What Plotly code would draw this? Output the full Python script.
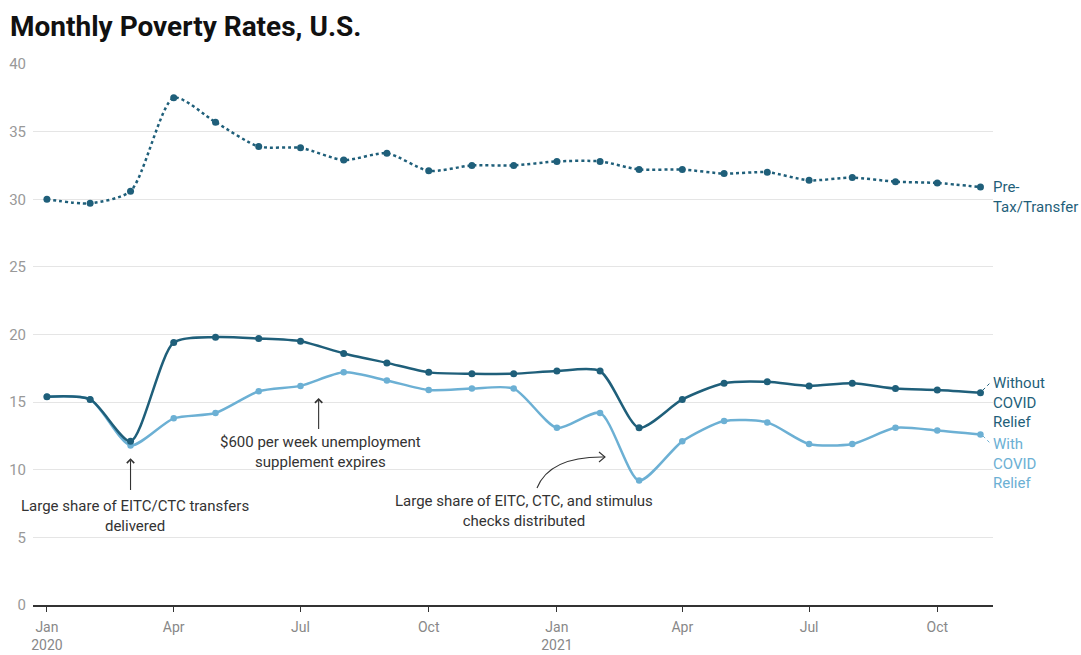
import pandas as pd
import plotly.graph_objects as go

# Monthly series, Jan 2020 - Nov 2021
months = pd.date_range("2020-01-01", "2021-11-01", freq="MS")

pre_tax_transfer = [30.0, 29.7, 30.6, 37.5, 35.7, 33.9, 33.8, 32.9, 33.4, 32.1, 32.5, 32.5,
                    32.8, 32.8, 32.2, 32.2, 31.9, 32.0, 31.4, 31.6, 31.3, 31.2, 30.9]
without_relief = [15.4, 15.2, 12.1, 19.4, 19.8, 19.7, 19.5, 18.6, 17.9, 17.2, 17.1, 17.1,
                  17.3, 17.3, 13.1, 15.2, 16.4, 16.5, 16.2, 16.4, 16.0, 15.9, 15.7]
with_relief = [15.4, 15.2, 11.8, 13.8, 14.2, 15.8, 16.2, 17.2, 16.6, 15.9, 16.0, 16.0,
               13.1, 14.2, 9.2, 12.1, 13.6, 13.5, 11.9, 11.9, 13.1, 12.9, 12.6]

tick_dates = ["2020-01-01", "2020-04-01", "2020-07-01", "2020-10-01",
              "2021-01-01", "2021-04-01", "2021-07-01", "2021-10-01"]
tick_labels = ["Jan<br>2020", "Apr", "Jul", "Oct", "Jan<br>2021", "Apr", "Jul", "Oct"]
y_ticks = [0, 5, 10, 15, 20, 25, 30, 35, 40]

DARK = "#1f5f7a"
LIGHT = "#6cb0d4"
FONT = "Roboto"

W, H = 1081, 655
L, R, T, B = 33, 993, 64, 605


def px(x):
    return (x - L) / (R - L)


def py(y):
    return (B - y) / (B - T)


fig = go.Figure()

fig.add_trace(go.Scatter(
    x=months, y=pre_tax_transfer, mode="lines+markers",
    line=dict(color=DARK, width=2.5, dash="dot", shape="spline", smoothing=0.7),
    marker=dict(color=DARK, size=7), name="Pre-Tax/Transfer", showlegend=False))
fig.add_trace(go.Scatter(
    x=months, y=with_relief, mode="lines+markers",
    line=dict(color=LIGHT, width=2.5, shape="spline", smoothing=0.7),
    marker=dict(color=LIGHT, size=6.5), name="With COVID Relief", showlegend=False))
fig.add_trace(go.Scatter(
    x=months, y=without_relief, mode="lines+markers",
    line=dict(color=DARK, width=2.5, shape="spline", smoothing=0.7),
    marker=dict(color=DARK, size=7), name="Without COVID Relief", showlegend=False))

annots = []
txt = dict(family=FONT, size=15, color="#333333")

# Straight arrows pointing at the dip and the expiry
annots.append(dict(x="2020-03-01", y=10.85, ax="2020-03-01", ay=8.4,
                   xref="x", yref="y", axref="x", ayref="y", text="",
                   showarrow=True, arrowhead=4, arrowsize=1.3, arrowwidth=1.1,
                   arrowcolor="#333333"))
annots.append(dict(x="2020-07-14", y=15.3, ax="2020-07-14", ay=12.9,
                   xref="x", yref="y", axref="x", ayref="y", text="",
                   showarrow=True, arrowhead=4, arrowsize=1.3, arrowwidth=1.1,
                   arrowcolor="#333333"))

annots.append(dict(x=px(135), y=py(516), xref="paper", yref="paper",
                   text="Large share of EITC/CTC transfers<br>delivered",
                   showarrow=False, font=txt, align="center",
                   xanchor="center", yanchor="middle"))
annots.append(dict(x=px(320), y=py(452), xref="paper", yref="paper",
                   text="$600 per week unemployment<br>supplement expires",
                   showarrow=False, font=txt, align="center",
                   xanchor="center", yanchor="middle"))
annots.append(dict(x=px(524), y=py(511), xref="paper", yref="paper",
                   text="Large share of EITC, CTC, and stimulus<br>checks distributed",
                   showarrow=False, font=txt, align="center",
                   xanchor="center", yanchor="middle"))

# Series labels on the right
lab = dict(xref="paper", yref="paper", showarrow=False, align="left",
           xanchor="left", yanchor="middle", xshift=-2)
annots.append(dict(x=px(993), y=py(197), text="Pre-<br>Tax/Transfer",
                   font=dict(family=FONT, size=15, color=DARK), **lab))
annots.append(dict(x=px(993), y=py(403), text="Without<br>COVID<br>Relief",
                   font=dict(family=FONT, size=15, color=DARK), **lab))
annots.append(dict(x=px(993), y=py(463), text="With<br>COVID<br>Relief",
                   font=dict(family=FONT, size=15, color=LIGHT), **lab))

shapes = []
# Curved arrow for the 2021 stimulus note
x0, y0 = px(537), py(488)
cx, cy = px(550), py(456)
x1, y1 = px(605), py(457)
shapes.append(dict(type="path", xref="paper", yref="paper",
                   path=f"M {x0},{y0} Q {cx},{cy} {x1},{y1}",
                   line=dict(color="#333333", width=1.1)))
shapes.append(dict(type="path", xref="paper", yref="paper",
                   path=f"M {px(599)},{py(452)} L {x1},{y1} L {px(599)},{py(462)}",
                   line=dict(color="#333333", width=1.1)))
# Dotted leaders from last points to labels
shapes.append(dict(type="line", xref="paper", yref="paper",
                   x0=px(983), y0=py(390), x1=px(991), y1=py(382),
                   line=dict(color=DARK, width=1, dash="dot")))
shapes.append(dict(type="line", xref="paper", yref="paper",
                   x0=px(983), y0=py(436), x1=px(991), y1=py(444),
                   line=dict(color=LIGHT, width=1, dash="dot")))

fig.update_layout(
    width=W, height=H,
    margin=dict(l=L, r=W - R, t=T, b=H - B, pad=0, autoexpand=False),
    paper_bgcolor="white", plot_bgcolor="white",
    font=dict(family=FONT, size=15, color="#999999"),
    title=dict(text="<b>Monthly Poverty Rates, U.S.</b>",
               font=dict(family=FONT, size=28, color="#111111"),
               x=10 / W, xanchor="left", xref="container",
               y=1 - 26 / H, yanchor="middle", yref="container"),
    annotations=annots, shapes=shapes,
)

fig.update_xaxes(
    type="date", range=["2019-12-22", "2021-11-10"],
    tickvals=tick_dates, ticktext=tick_labels,
    showgrid=False, showline=True, linecolor="#333333", linewidth=1.5,
    ticks="outside", ticklen=5, tickcolor="#333333", tickwidth=1,
    tickfont=dict(family=FONT, size=14, color="#888888"),
    ticklabelstandoff=3, automargin=False,
    zeroline=False, fixedrange=True,
)
fig.update_yaxes(
    range=[0, 40], tickvals=y_ticks,
    showgrid=True, gridcolor="#e5e5e5", gridwidth=1,
    zeroline=False, showline=False, ticks="",
    tickfont=dict(family=FONT, size=15, color="#999999"),
    ticklabelstandoff=6, automargin=False, fixedrange=True,
)

fig.write_html("out.html")
